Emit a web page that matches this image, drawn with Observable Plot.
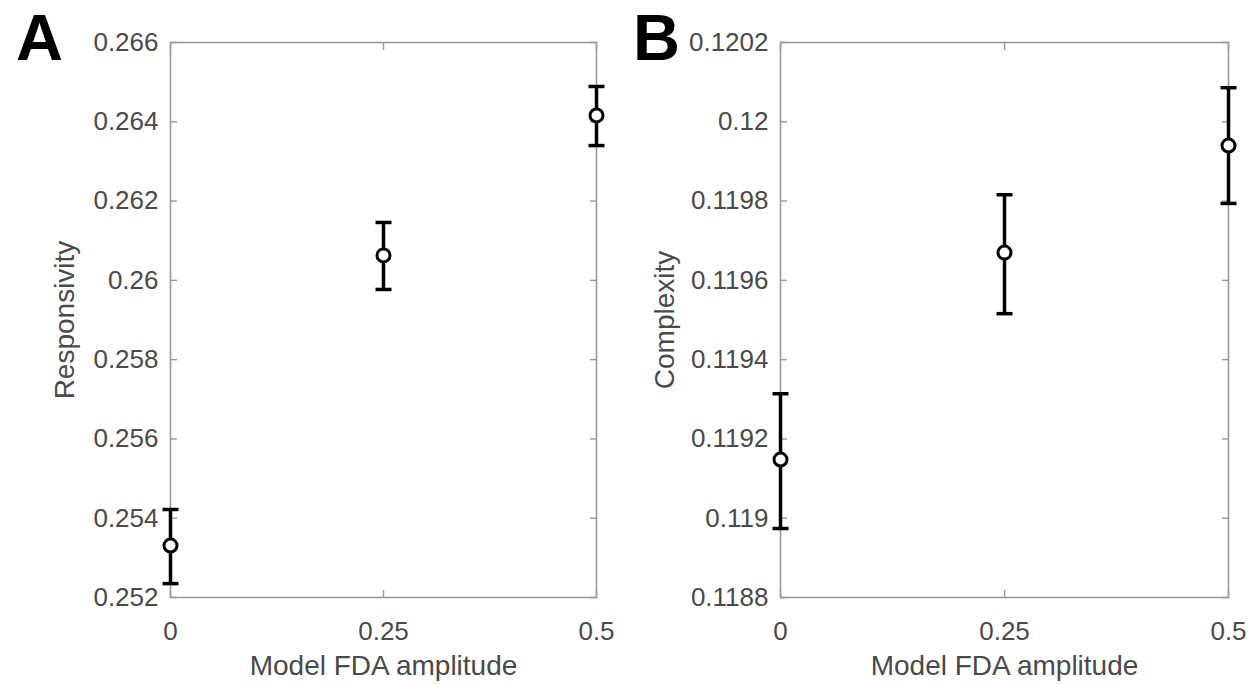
<!DOCTYPE html>
<html>
<head>
<meta charset="utf-8">
<script src="https://cdn.jsdelivr.net/npm/d3@7"></script>
<script src="https://cdn.jsdelivr.net/npm/@observablehq/plot@0.6"></script>
<style>
  html, body { margin: 0; padding: 0; background: #fff; }
  #wrap { position: relative; width: 1250px; height: 685px; overflow: hidden; font-family: "Liberation Sans", Arial, sans-serif; }
  .panel { position: absolute; top: 0; }
  .letter { position: absolute; font-family: "Liberation Sans", Arial, sans-serif; font-weight: bold; font-size: 65px; line-height: normal; color: #000; }
</style>
</head>
<body>
<div id="wrap">
  <div id="pA" class="panel" style="left:0px"></div>
  <div id="pB" class="panel" style="left:625px"></div>
  <div class="letter" style="left:16px; top:0px">A</div>
  <div class="letter" style="left:633px; top:0px">B</div>
</div>
<script>
// ---- data ----
const amplitude = [0, 0.25, 0.5];
const xTicks = [0, 0.25, 0.5];

const respMean = [0.25331, 0.26063, 0.26416];
const respLow  = [0.25235, 0.25977, 0.26340];
const respHigh = [0.25422, 0.26146, 0.26489];
const respTicks = [0.252, 0.254, 0.256, 0.258, 0.260, 0.262, 0.264, 0.266];
const respDomain = [0.252, 0.266];

const compMean = [0.119148, 0.119670, 0.119940];
const compLow  = [0.118974, 0.119516, 0.119794];
const compHigh = [0.119314, 0.119816, 0.120086];
const compTicks = [0.1188, 0.1190, 0.1192, 0.1194, 0.1196, 0.1198, 0.1200, 0.1202];
const compDomain = [0.1188, 0.1202];

const xLabel = "Model FDA amplitude";

// custom symbol: horizontal cap line, half-width = r
const capSymbol = {
  draw(context, size) {
    const w = Math.sqrt(size / Math.PI);
    context.moveTo(-w, 0);
    context.lineTo(w, 0);
  }
};

const textColor = "#4a4a4a";
const frameColor = "#9a9a9a";

function panel({mean, low, high, ticks, domain, yLabel, digits, marginLeft, marginRight, labelOffsetY}) {
  const data = amplitude.map((a, i) => ({x: a, m: mean[i], lo: low[i], hi: high[i]}));
  const fmt = d => String(+d.toFixed(digits));
  return Plot.plot({
    width: 625,
    height: 685,
    marginTop: 42,
    marginBottom: 88,
    marginLeft,
    marginRight,
    style: {fontFamily: "'Liberation Sans', Arial, sans-serif", background: "#fff", overflow: "visible"},
    x: {domain: [0, 0.5]},
    y: {domain},
    marks: [
      Plot.frame({stroke: frameColor, strokeWidth: 1.6}),
      Plot.axisX({anchor: "bottom", ticks: xTicks, tickSize: -7, tickPadding: 31, stroke: frameColor, strokeWidth: 1.4,
        fill: textColor, fontSize: 26, tickFormat: d => String(d), label: null}),
      Plot.axisX({anchor: "bottom", ticks: xTicks, tickSize: 0, tickFormat: () => "", fill: textColor, fontSize: 28,
        label: xLabel, labelAnchor: "center", labelArrow: "none", labelOffset: 77}),
      Plot.axisX({anchor: "top", ticks: xTicks, tickSize: -7, stroke: frameColor, strokeWidth: 1.4, tickFormat: () => "", label: null}),
      Plot.axisY({anchor: "left", ticks, tickSize: -7, tickPadding: 19, stroke: frameColor, strokeWidth: 1.4,
        fill: textColor, fontSize: 26, tickFormat: fmt, label: null}),
      Plot.axisY({anchor: "left", ticks, tickSize: 0, tickFormat: () => "", fill: textColor, fontSize: 28,
        label: yLabel, labelAnchor: "center", labelArrow: "none", labelOffset: labelOffsetY}),
      Plot.axisY({anchor: "right", ticks, tickSize: -7, stroke: frameColor, strokeWidth: 1.4, tickFormat: () => "", label: null}),
      Plot.ruleX(data, {x: "x", y1: "lo", y2: "hi", stroke: "#000", strokeWidth: 3.5}),
      Plot.dot(data, {x: "x", y: "lo", symbol: capSymbol, r: 8, stroke: "#000", strokeWidth: 3.5, fill: "none"}),
      Plot.dot(data, {x: "x", y: "hi", symbol: capSymbol, r: 8, stroke: "#000", strokeWidth: 3.5, fill: "none"}),
      Plot.dot(data, {x: "x", y: "m", r: 6.5, stroke: "#000", strokeWidth: 3, fill: "#fff"})
    ]
  });
}

document.getElementById("pA").appendChild(panel({
  mean: respMean, low: respLow, high: respHigh, ticks: respTicks, domain: respDomain,
  yLabel: "Responsivity", digits: 3, marginLeft: 170, marginRight: 29, labelOffsetY: 116
}));
document.getElementById("pB").appendChild(panel({
  mean: compMean, low: compLow, high: compHigh, ticks: compTicks, domain: compDomain,
  yLabel: "Complexity", digits: 4, marginLeft: 155, marginRight: 22, labelOffsetY: 126
}));
</script>
</body>
</html>
